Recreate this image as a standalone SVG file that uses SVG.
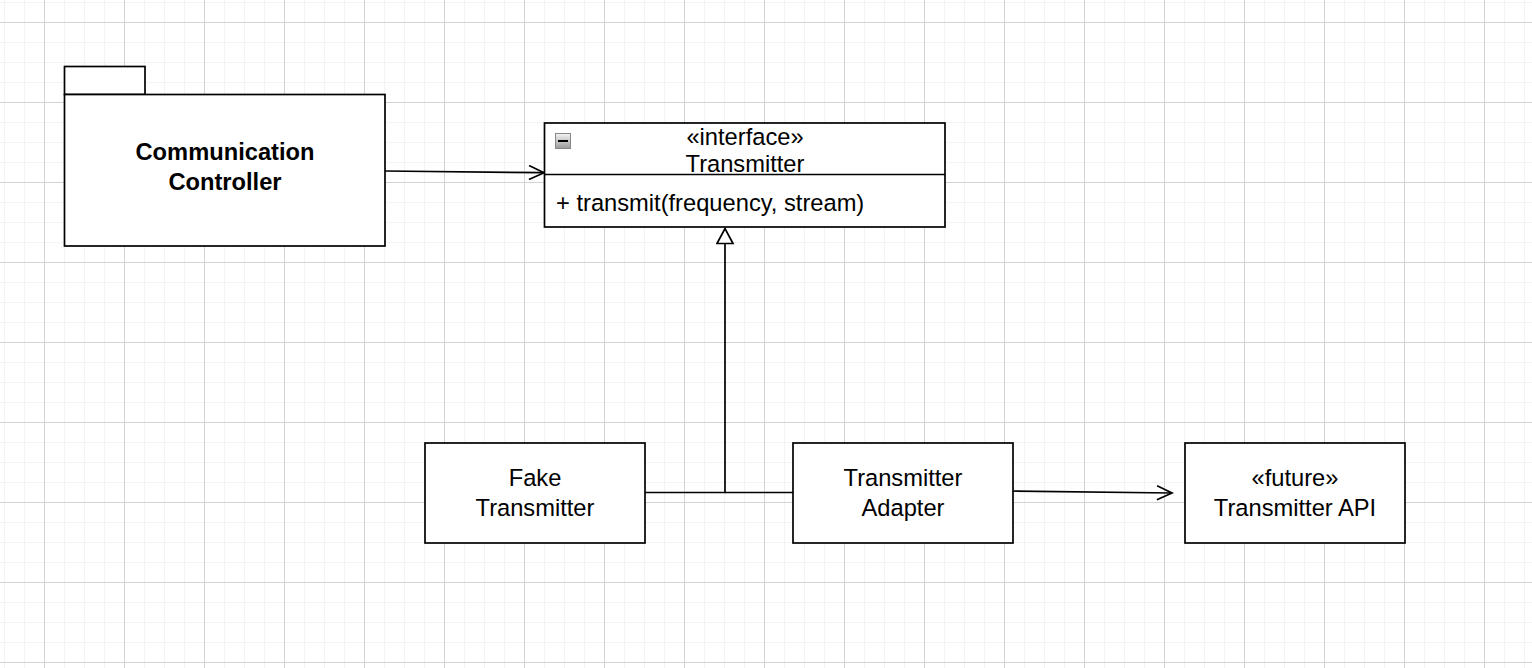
<svg xmlns="http://www.w3.org/2000/svg" width="1532" height="668" viewBox="0 0 1532 668">
<defs>
<pattern id="grid" patternUnits="userSpaceOnUse" x="44" y="22" width="80" height="80">
<path d="M20.5 0V80M40.5 0V80M60.5 0V80M0 20.5H80M0 40.5H80M0 60.5H80" stroke="#f3f3f3" stroke-width="1" fill="none"/>
<path d="M0.5 0V80M0 0.5H80" stroke="#d3d3d3" stroke-width="1" fill="none"/>
</pattern>
<linearGradient id="btn" x1="0" y1="0" x2="0" y2="1">
<stop offset="0" stop-color="#f4f4f4"/>
<stop offset="1" stop-color="#9a9a9a"/>
</linearGradient>
<marker id="open" markerUnits="userSpaceOnUse" markerWidth="20" markerHeight="20" refX="16" refY="8" orient="auto" viewBox="0 0 20 20">
<path d="M1 1L16 8L1 15" fill="none" stroke="#000" stroke-width="1.7"/>
</marker>
<marker id="tri" markerUnits="userSpaceOnUse" markerWidth="20" markerHeight="20" refX="16" refY="9" orient="auto" viewBox="0 0 20 20">
<path d="M1 1L16 9L1 17Z" fill="#fff" stroke="#000" stroke-width="1.7"/>
</marker>
<style>
.box{fill:#fff;stroke:#000;stroke-width:1.7}
.t{font-family:"Liberation Sans",Arial,Helvetica,sans-serif;font-size:23.7px;fill:#000}
.c{text-anchor:middle}
.b{font-weight:bold}
.edge{fill:none;stroke:#000;stroke-width:1.7}
</style>
</defs>
<rect width="1532" height="668" fill="#fff"/>
<rect width="1532" height="668" fill="url(#grid)"/>

<g id="connectors">
<path class="edge" d="M385 171L544 172.7" marker-end="url(#open)"/>
<path class="edge" d="M645 492.5H725V228.5" marker-end="url(#tri)"/>
<path class="edge" d="M793 492.5H725"/>
<path class="edge" d="M1013 491L1172 493" marker-end="url(#open)"/>
</g>

<g id="communication-controller">
<rect class="box" x="64.5" y="66.5" width="80.5" height="28"/>
<rect class="box" x="64.5" y="94.5" width="320.5" height="151.5"/>
<text class="t c b" x="225" y="160">Communication</text>
<text class="t c b" x="225" y="190">Controller</text>
</g>

<g id="transmitter-interface">
<rect class="box" x="544.5" y="123" width="400.5" height="104"/>
<line x1="544.5" y1="174.5" x2="945" y2="174.5" stroke="#000" stroke-width="1.7"/>
<rect x="555.5" y="133.5" width="15" height="15" fill="url(#btn)" stroke="#888" stroke-width="1"/>
<line x1="558" y1="141" x2="568" y2="141" stroke="#000" stroke-width="2"/>
<text class="t c" x="745" y="145">«interface»</text>
<text class="t c" x="745" y="172">Transmitter</text>
<text class="t" x="556" y="211">+ transmit(frequency, stream)</text>
</g>

<g id="fake-transmitter">
<rect class="box" x="425" y="443" width="220" height="100"/>
<text class="t c" x="535" y="486">Fake</text>
<text class="t c" x="535" y="516">Transmitter</text>
</g>

<g id="transmitter-adapter">
<rect class="box" x="793" y="443" width="220" height="100"/>
<text class="t c" x="903" y="486">Transmitter</text>
<text class="t c" x="903" y="516">Adapter</text>
</g>

<g id="transmitter-api">
<rect class="box" x="1185" y="443" width="220" height="100"/>
<text class="t c" x="1295" y="486">«future»</text>
<text class="t c" x="1295" y="516">Transmitter API</text>
</g>
</svg>
